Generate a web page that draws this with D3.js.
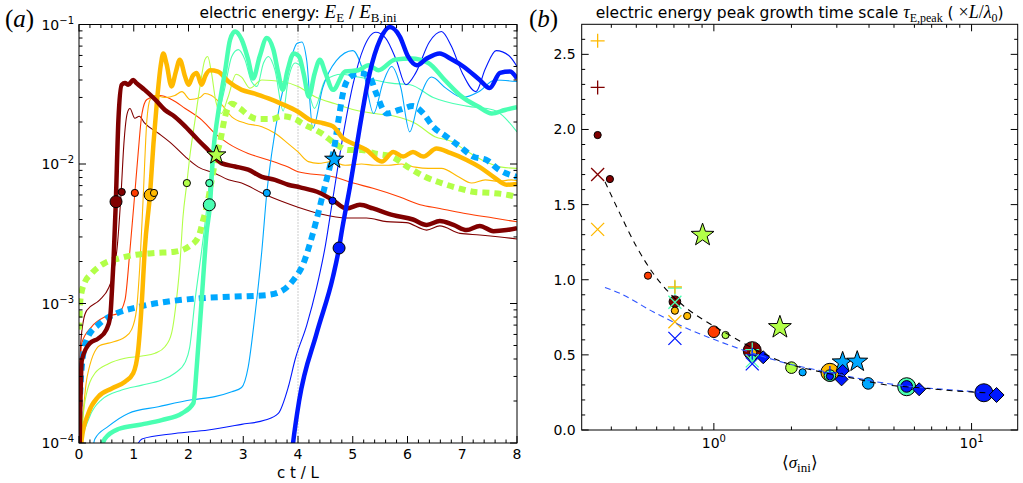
<!DOCTYPE html>
<html>
<head>
<meta charset="utf-8">
<script src="https://cdn.jsdelivr.net/npm/d3@7"></script>
<style>
  body { margin: 0; background: #fff; }
  svg { display: block; font-family: "DejaVu Sans", sans-serif; }
  .tk { stroke: #000; stroke-width: 1; }
  .frame { fill: none; stroke: #000; stroke-width: 1; }
  .math { font-family: "Liberation Serif", serif; }
</style>
</head>
<body>
<svg id="fig" width="1023" height="483"></svg>
<script>
// ---------- panel (a): electric energy E_E / E_B,ini vs c t / L ----------
// [t, E]
var darkRedThick = [[0.0,5e-5],[0.02,1.5e-4],[0.05,3.9e-4],[0.2,5.2e-4],[0.35,5.6e-4],[0.5,6.5e-4],[0.57,8e-4],[0.6,1.2e-3],[0.63,2e-3],[0.67,5e-3],[0.72,2.07e-2],[0.78,3.7e-2],[0.84,3.8e-2],[0.9,3.7e-2],[0.99,4e-2],[1.05,3.8e-2],[1.2,3.4e-2],[1.39,2.9e-2],[1.57,2.44e-2],[1.75,2.18e-2],[1.94,1.86e-2],[2.18,1.48e-2],[2.36,1.26e-2],[2.61,1.01e-2],[2.85,9.6e-3],[3.09,9.1e-3],[3.34,8.1e-3],[3.58,7.7e-3],[3.82,7.1e-3],[4.04,6.8e-3],[4.4,6.2e-3],[4.64,5.5e-3],[4.89,4.8e-3],[5.13,5.1e-3],[5.37,4.8e-3],[5.74,4.3e-3],[6.1,4e-3],[6.35,3.66e-3],[6.59,3.9e-3],[6.84,3.66e-3],[7.08,3.36e-3],[7.32,3.6e-3],[7.57,3.3e-3],[7.81,3.36e-3],[8,3.47e-3]];
var darkRedThin = [[0,1.5e-4],[0.03,5e-4],[0.08,7.5e-4],[0.14,8.9e-4],[0.38,1.06e-3],[0.54,1.29e-3],[0.62,1.6e-3],[0.7,2.6e-3],[0.77,6.3e-3],[0.82,1.4e-2],[0.88,2.3e-2],[0.93,2.5e-2],[1.02,2.13e-2],[1.1,2.2e-2],[1.2,1.96e-2],[1.45,1.66e-2],[1.69,1.4e-2],[1.94,1.13e-2],[2.18,9.5e-3],[2.48,8.6e-3],[2.73,7.7e-3],[2.97,7.3e-3],[3.34,6.2e-3],[3.7,5.4e-3],[4.0,4.9e-3],[4.4,4.4e-3],[4.89,4.1e-3],[5.25,4.1e-3],[5.62,3.86e-3],[5.98,3.8e-3],[6.35,3.36e-3],[6.59,3.6e-3],[6.96,3.18e-3],[7.32,3.1e-3],[7.69,3e-3],[8,2.9e-3]];
var redThin = [[0,2e-4],[0.05,5.2e-4],[0.23,6.8e-4],[0.47,8e-4],[0.72,8.5e-4],[0.84,1.06e-3],[0.93,2.4e-3],[1.02,6.2e-3],[1.08,1.19e-2],[1.15,2.3e-2],[1.24,2.9e-2],[1.48,3.1e-2],[1.69,2.9e-2],[1.94,2.5e-2],[2.24,2.07e-2],[2.48,1.66e-2],[2.73,1.4e-2],[3.09,1.19e-2],[3.46,1.07e-2],[3.82,9.5e-3],[4.0,8.8e-3],[4.64,8.1e-3],[5.01,7.3e-3],[5.37,6.7e-3],[5.86,5.8e-3],[6.23,5.1e-3],[6.59,4.8e-3],[7.08,4.4e-3],[7.57,4.1e-3],[8,3.85e-3]];
var orangeThick = [[0,4e-5],[0.05,1.07e-4],[0.17,1.63e-4],[0.35,2.14e-4],[0.6,2.46e-4],[0.84,2.75e-4],[0.99,3.16e-4],[1.08,4.6e-4],[1.15,1.06e-3],[1.2,2.4e-3],[1.3,6.3e-3],[1.36,1.4e-2],[1.42,2.7e-2],[1.49,5e-2],[1.54,6.2e-2],[1.6,5.2e-2],[1.69,3.6e-2],[1.77,4.6e-2],[1.84,5.6e-2],[1.94,4.2e-2],[2.0,3.7e-2],[2.08,4.3e-2],[2.15,4.5e-2],[2.24,3.7e-2],[2.31,4.3e-2],[2.39,4.7e-2],[2.54,4.6e-2],[2.73,3.9e-2],[2.97,3.4e-2],[3.21,3.2e-2],[3.46,2.95e-2],[3.7,2.7e-2],[4.0,2.37e-2],[4.22,2.07e-2],[4.46,1.96e-2],[4.64,1.86e-2],[4.82,1.53e-2],[5.0,1.4e-2],[5.25,1.26e-2],[5.53,1.04e-2],[5.74,1.22e-2],[5.92,1.13e-2],[6.1,1.22e-2],[6.29,1.13e-2],[6.53,1.29e-2],[6.78,1.2e-2],[7.08,1.07e-2],[7.32,9.5e-3],[7.57,8.1e-3],[7.81,7.1e-3],[8,7.2e-3]];
var orangeThin = [[0,6e-5],[0.05,1.2e-4],[0.15,3e-4],[0.38,5e-4],[0.54,5.2e-4],[0.84,5.75e-4],[0.96,6.5e-4],[1.05,9e-4],[1.11,1.84e-3],[1.17,5.5e-3],[1.24,2.07e-2],[1.3,2.9e-2],[1.39,3.1e-2],[1.57,3e-2],[1.75,3.1e-2],[1.88,3.3e-2],[2.03,2.9e-2],[2.21,3e-2],[2.3,3.2e-2],[2.42,3.1e-2],[2.61,2.65e-2],[2.79,2.18e-2],[3.04,1.96e-2],[3.34,1.85e-2],[3.58,1.66e-2],[3.82,1.4e-2],[4.0,1.22e-2],[4.19,1.04e-2],[4.37,1.01e-2],[4.62,1.04e-2],[4.86,9.8e-3],[5.16,1e-2],[5.4,9.8e-3],[5.65,9.8e-3],[5.89,1e-2],[6.14,9.5e-3],[6.38,9.3e-3],[6.62,9.3e-3],[6.93,8.1e-3],[7.17,7.3e-3],[7.42,7.7e-3],[7.66,7.5e-3],[7.9,7.7e-3],[8,7.6e-3]];
var ygThin = [[0,6e-5],[0.05,1.2e-4],[0.11,2e-4],[0.29,3.16e-4],[0.54,3.7e-4],[0.84,4.05e-4],[1.15,4.2e-4],[1.39,4.4e-4],[1.57,4.9e-4],[1.69,6.1e-4],[1.78,1.06e-3],[1.84,1.84e-3],[1.9,4.2e-3],[1.97,7.3e-3],[2.02,1.1e-2],[2.12,2.07e-2],[2.21,3.6e-2],[2.3,5.6e-2],[2.35,5.9e-2],[2.42,4.5e-2],[2.5,2.8e-2],[2.6,2.3e-2],[2.72,3e-2],[2.87,4.4e-2],[2.97,4.2e-2],[3.12,3.5e-2],[3.34,4e-2],[3.7,3.9e-2],[4.0,3.6e-2],[4.31,3.04e-2],[4.68,2.7e-2],[5.04,2.44e-2],[5.4,2.3e-2],[5.77,2.2e-2],[6.14,1.96e-2],[6.5,1.57e-2],[6.81,1.45e-2],[7.05,1.26e-2],[7.36,1.07e-2],[7.72,9.5e-3],[8,9.3e-3]];
var ygDotted = [[0,6.5e-4],[0.03,1.1e-3],[0.1,1.4e-3],[0.23,1.64e-3],[0.47,1.95e-3],[0.72,2.1e-3],[1.02,2.23e-3],[1.39,2.3e-3],[1.75,2.35e-3],[2.0,2.55e-3],[2.18,3e-3],[2.27,4e-3],[2.33,4.9e-3],[2.42,7.5e-3],[2.51,1.16e-2],[2.57,1.4e-2],[2.67,2.2e-2],[2.79,2.7e-2],[2.94,2.5e-2],[3.09,2.24e-2],[3.27,2.1e-2],[3.52,2.1e-2],[3.7,2.2e-2],[3.95,2.1e-2],[4.07,1.96e-2],[4.43,1.66e-2],[4.68,1.4e-2],[4.92,1.26e-2],[5.16,1.26e-2],[5.4,1.19e-2],[5.71,1.13e-2],[6.01,9.5e-3],[6.32,8.1e-3],[6.62,7.3e-3],[6.93,6.7e-3],[7.23,6.3e-3],[7.54,6.2e-3],[7.84,6e-3],[8,5.8e-3]];
var aquaThin = [[0,5e-5],[0.05,1e-4],[0.17,1.46e-4],[0.41,2.04e-4],[0.78,2.4e-4],[1.15,2.6e-4],[1.51,2.83e-4],[1.75,3.16e-4],[1.94,3.8e-4],[2.02,4.8e-4],[2.12,1.06e-3],[2.24,2.4e-3],[2.33,4.7e-3],[2.38,7.3e-3],[2.45,1.2e-2],[2.54,2.07e-2],[2.67,3.6e-2],[2.79,5.9e-2],[2.91,6.6e-2],[3.03,5.6e-2],[3.15,3.9e-2],[3.25,3.6e-2],[3.37,5.3e-2],[3.46,5.9e-2],[3.58,4.7e-2],[3.73,2.4e-2],[3.82,4e-2],[3.95,5.3e-2],[4.05,5e-2],[4.18,3.5e-2],[4.3,2.5e-2],[4.5,4e-2],[4.8,4.4e-2],[5.1,4.2e-2],[5.4,4e-2],[5.7,3.8e-2],[6.05,3.7e-2],[6.47,3e-2],[7.08,2.6e-2],[7.57,2.44e-2],[8,1.7e-2]];
var aquaThick = [[0.3,6e-5],[0.47,1.07e-4],[0.72,1.26e-4],[1.15,1.36e-4],[1.51,1.46e-4],[1.88,1.63e-4],[2.09,1.93e-4],[2.15,3.5e-4],[2.24,1.06e-3],[2.33,3.2e-3],[2.39,5e-3],[2.45,1.19e-2],[2.54,2.3e-2],[2.67,4.7e-2],[2.76,7.8e-2],[2.85,8.9e-2],[2.97,7.8e-2],[3.09,5.6e-2],[3.18,4.1e-2],[3.3,5.9e-2],[3.43,8e-2],[3.55,6.6e-2],[3.64,4.5e-2],[3.72,3.4e-2],[3.81,4.7e-2],[3.92,6.2e-2],[4.02,5.9e-2],[4.1,4.5e-2],[4.2,3.04e-2],[4.3,4.4e-2],[4.4,5.6e-2],[4.5,4.5e-2],[4.64,3.4e-2],[4.86,4.6e-2],[5.1,4.7e-2],[5.29,5.1e-2],[5.47,4.7e-2],[5.77,5.6e-2],[6.07,5.7e-2],[6.38,5.3e-2],[6.68,4e-2],[6.99,3.04e-2],[7.29,2.58e-2],[7.54,2.3e-2],[7.78,2.44e-2],[8,2.55e-2]];
var lblueThin = [[0.2,6e-5],[0.29,1.07e-4],[0.54,1.32e-4],[0.9,1.63e-4],[1.45,1.82e-4],[2.06,2.04e-4],[2.48,2.15e-4],[2.79,2.33e-4],[2.97,2.5e-4],[3.09,3.5e-4],[3.21,8e-4],[3.34,2.4e-3],[3.43,6.2e-3],[3.52,1.19e-2],[3.67,2.7e-2],[3.82,4.7e-2],[3.98,7.3e-2],[4.07,7.5e-2],[4.16,5.5e-2],[4.27,1.8e-2],[4.45,3.5e-2],[4.7,5.5e-2],[5.0,6.5e-2],[5.2,4.5e-2],[5.38,2.3e-2],[5.55,3.8e-2],[5.71,5e-2],[5.88,3.5e-2],[6.04,1.7e-2],[6.2,2.8e-2],[6.44,4.2e-2],[6.7,3.5e-2],[7.0,3e-2],[7.3,3.3e-2],[7.6,4e-2],[8,3.9e-2]];
var lblueDotted = [[0,1.5e-4],[0.05,3.5e-4],[0.14,5.5e-4],[0.38,7.2e-4],[0.69,8.5e-4],[1.11,9.5e-4],[1.6,1.03e-3],[2.21,1.09e-3],[2.82,1.12e-3],[3.43,1.15e-3],[3.73,1.25e-3],[3.92,1.48e-3],[4.1,1.94e-3],[4.22,2.7e-3],[4.34,4e-3],[4.46,6.2e-3],[4.58,9.5e-3],[4.66,1.3e-2],[4.75,2.2e-2],[4.82,3.2e-2],[4.95,4.2e-2],[5.13,4.5e-2],[5.31,4.2e-2],[5.43,3.2e-2],[5.62,2.3e-2],[5.86,2.45e-2],[6.1,2.6e-2],[6.29,2.3e-2],[6.47,1.85e-2],[6.71,1.57e-2],[6.96,1.33e-2],[7.2,1.13e-2],[7.44,1.07e-2],[7.69,9e-3],[8,8.1e-3]];
var blueThin = [[0.9,6e-5],[1.15,1.07e-4],[1.75,1.17e-4],[2.36,1.24e-4],[2.97,1.36e-4],[3.4,1.46e-4],[3.64,1.63e-4],[3.82,2.5e-4],[3.95,4e-4],[4.16,7e-4],[4.34,1.3e-3],[4.5,2.6e-3],[4.63,5.45e-3],[4.83,1.66e-2],[5.01,3.8e-2],[5.2,6.8e-2],[5.42,8.8e-2],[5.6,8e-2],[5.8,5.5e-2],[5.97,3.7e-2],[6.15,4.5e-2],[6.4,7.5e-2],[6.62,8.9e-2],[6.8,7e-2],[7.0,4.5e-2],[7.25,3.3e-2],[7.42,4.8e-2],[7.62,6.5e-2],[7.85,6e-2],[8,5e-2]];
var blueThick = [[3.85,6e-5],[3.91,1e-4],[4.02,2e-4],[4.34,6.1e-4],[4.64,1.56e-3],[4.75,2.5e-3],[4.8,3.3e-3],[4.95,6.9e-3],[5.13,1.85e-2],[5.31,4.5e-2],[5.5,7.8e-2],[5.68,9.6e-2],[5.86,8.2e-2],[6.01,5.9e-2],[6.17,5.1e-2],[6.35,5.7e-2],[6.59,6.2e-2],[6.78,5.7e-2],[7.02,5e-2],[7.32,4e-2],[7.5,3.5e-2],[7.69,4.5e-2],[7.87,4.6e-2],[8,4.1e-2]];

// markers in (a): [t, E, run]
var bigDotsA   = [[0.676,5.37e-3,"c0"],[1.3,6e-3,"c2"],[2.38,5.1e-3,"c4"],[4.75,2.5e-3,"c6"]];
var smallDotsA = [[0.78,6.3e-3,"c0"],[1.02,6.2e-3,"c1"],[1.37,6.2e-3,"c2"],[1.97,7.3e-3,"c3"],[2.38,7.3e-3,"c4"],[3.43,6.2e-3,"c5"],[4.63,5.45e-3,"c6"]];
var starsA     = [[2.51,1.16e-2,"c3"],[4.66,1.08e-2,"c5"]];
var xTicksA    = [0,1,2,3,4,5,6,7,8];

// ---------- panel (b): peak growth time scale vs <sigma_ini> ----------
// [sigma, tau, run]
var largeDotsB = [[1.409,0.528,"c0"],[2.82,0.384,"c2"],[5.6,0.288,"c4"],[11.16,0.248,"c6"]];
var midDotsB   = [[0.706,0.854,"c0"],[1.0,0.654,"c1"],[2.0,0.415,"c3"],[2.82,0.362,"c4"],[3.97,0.31,"c5"],[5.6,0.29,"c6"]];
var smallDotsB = [[0.354,1.963,"c0"],[0.395,1.67,"c0"],[0.555,1.027,"c1"],[0.706,0.794,"c2"],[0.788,0.759,"c2"],[1.11,0.632,"c3"],[1.42,0.515,"c2"],[1.409,0.477,"c4"],[2.21,0.384,"c5"],[2.82,0.357,"c6"]];
var starsB     = [[0.904,1.297,"c3"],[1.804,0.683,"c3"],[3.16,0.45,"c5"],[3.6,0.455,"c5"]];
var diamondsB  = [[1.554,0.484],[3.16,0.393],[3.13,0.337],[6.26,0.271],[12.5,0.233]];
var plusB      = [[0.354,2.59,"c2"],[0.354,2.28,"c0"],[0.706,0.945,"c4"],[0.706,0.953,"c2"],[1.409,0.535,"c4"],[1.409,0.5,"c6"],[2.82,0.38,"c6"]];
var crossB     = [[0.354,1.70,"c0"],[0.354,1.335,"c2"],[0.706,0.85,"c4"],[0.706,0.72,"c2"],[0.706,0.61,"c6"],[1.409,0.46,"c4"],[1.409,0.44,"c6"]];
var fitBlack   = [[0.378,1.652],[0.432,1.44],[0.501,1.22],[0.581,1.043],[0.675,0.909],[0.784,0.81],[0.937,0.72],[1.12,0.643],[1.42,0.543],[1.914,0.444],[2.58,0.388],[3.47,0.344],[4.68,0.3],[6.3,0.281],[8.49,0.261],[11.4,0.248]];
var fitBlue    = [[0.378,0.949],[0.432,0.909],[0.581,0.787],[0.784,0.677],[1.055,0.588],[1.42,0.51],[1.914,0.444],[2.58,0.395],[3.47,0.35],[4.68,0.31],[6.3,0.283],[8.49,0.266],[11.4,0.248]];
var yTicksB    = [0, 0.5, 1.0, 1.5, 2.0, 2.5];

var runColor = {c0:"#800000", c1:"#ff3c00", c2:"#ffb900", c3:"#b2ff48", c4:"#4affb2", c5:"#00a8ff", c6:"#0018ff"};

var svg = d3.select("#fig");
var A = {left:79, right:517, top:24.5, bottom:443};
var B = {left:581.7, right:1017.7, top:24.3, bottom:430};

var xa = d3.scaleLinear().domain([0,8]).range([A.left, A.right]);
var ya = d3.scaleLog().domain([1e-4,1e-1]).range([A.bottom, A.top]);
var xb = d3.scaleLog().domain([0.307,15.1]).range([B.left, B.right]);
var yb = d3.scaleLinear().domain([0,2.7]).range([B.bottom, B.top]);

function starPath(R) {
    var pts = [];
    for (var i = 0; i < 10; i++) {
        var r = (i % 2 == 0) ? R : R*0.4;
        var a = -Math.PI/2 + i*Math.PI/5;
        pts.push([r*Math.cos(a), r*Math.sin(a)]);
    }
    return "M" + pts.map(function(p){ return p[0].toFixed(2)+","+p[1].toFixed(2); }).join("L") + "Z";
}

// ticks on all four sides, pointing inward
function ticksX(sc, vals, box, len) {
    vals.forEach(function(v) {
        var x = sc(v);
        svg.append("line").attr("class","tk").attr("x1",x).attr("x2",x).attr("y1",box.bottom).attr("y2",box.bottom-len);
        svg.append("line").attr("class","tk").attr("x1",x).attr("x2",x).attr("y1",box.top).attr("y2",box.top+len);
    });
}
function ticksY(sc, vals, box, len) {
    vals.forEach(function(v) {
        var y = sc(v);
        svg.append("line").attr("class","tk").attr("x1",box.left).attr("x2",box.left+len).attr("y1",y).attr("y2",y);
        svg.append("line").attr("class","tk").attr("x1",box.right).attr("x2",box.right-len).attr("y1",y).attr("y2",y);
    });
}
function powLabel(x, y, base, exp, anchor) {
    var t = svg.append("text").attr("x",x).attr("y",y).attr("text-anchor",anchor).attr("font-size",14);
    t.append("tspan").text(base);
    t.append("tspan").attr("dy",-6).attr("font-size",10).text(exp);
}

// ================= panel (a) =================
svg.append("clipPath").attr("id","clipA").append("rect")
    .attr("x",A.left).attr("y",A.top).attr("width",A.right-A.left).attr("height",A.bottom-A.top);

var gA = svg.append("g").attr("clip-path","url(#clipA)");

gA.append("line")
    .attr("x1",xa(4)).attr("x2",xa(4)).attr("y1",A.top).attr("y2",A.bottom)
    .attr("stroke","#9a9a9a").attr("stroke-width",1).attr("stroke-dasharray","1,2");

var lineA = d3.line()
    .x(function(d){ return xa(d[0]); })
    .y(function(d){ return ya(d[1]); })
    .curve(d3.curveMonotoneX);

var seriesA = [
    {d:darkRedThin, c:"c0", w:1.1},
    {d:redThin,     c:"c1", w:1.1},
    {d:orangeThin,  c:"c2", w:1.1},
    {d:ygThin,      c:"c3", w:1.1},
    {d:aquaThin,    c:"c4", w:1.1},
    {d:lblueThin,   c:"c5", w:1.1},
    {d:blueThin,    c:"c6", w:1.1},
    {d:ygDotted,    c:"c3", w:6, dash:"7,5"},
    {d:lblueDotted, c:"c5", w:6, dash:"7,5"},
    {d:orangeThick, c:"c2", w:4.5},
    {d:aquaThick,   c:"c4", w:4.5},
    {d:darkRedThick,c:"c0", w:4.5},
    {d:blueThick,   c:"c6", w:4.5}
];
seriesA.forEach(function(s) {
    gA.append("path")
        .attr("d", lineA(s.d))
        .attr("fill","none")
        .attr("stroke", runColor[s.c])
        .attr("stroke-width", s.w)
        .attr("stroke-dasharray", s.dash || null)
        .attr("stroke-linejoin","round");
});

gA.selectAll(".bigA").data(bigDotsA).enter().append("circle")
    .attr("cx",function(d){ return xa(d[0]); }).attr("cy",function(d){ return ya(d[1]); })
    .attr("r",6).attr("fill",function(d){ return runColor[d[2]]; }).attr("stroke","#000").attr("stroke-width",1);
gA.selectAll(".smallA").data(smallDotsA).enter().append("circle")
    .attr("cx",function(d){ return xa(d[0]); }).attr("cy",function(d){ return ya(d[1]); })
    .attr("r",3.6).attr("fill",function(d){ return runColor[d[2]]; }).attr("stroke","#000").attr("stroke-width",1);
gA.selectAll(".starA").data(starsA).enter().append("path")
    .attr("d", starPath(10))
    .attr("transform",function(d){ return "translate(" + xa(d[0]) + "," + ya(d[1]) + ")"; })
    .attr("fill",function(d){ return runColor[d[2]]; }).attr("stroke","#000").attr("stroke-width",1);

svg.append("rect").attr("class","frame")
    .attr("x",A.left).attr("y",A.top).attr("width",A.right-A.left).attr("height",A.bottom-A.top);

ticksX(xa, xTicksA, A, 7);
ticksX(xa, d3.range(0.2, 8, 0.2).filter(function(v){ return Math.abs(v-Math.round(v)) > 0.01; }), A, 3.5);
var yTicksAll = ya.ticks();
ticksY(ya, yTicksAll.filter(function(v){ return Math.abs(Math.log10(v)-Math.round(Math.log10(v))) < 1e-6; }), A, 7);
ticksY(ya, yTicksAll.filter(function(v){ return Math.abs(Math.log10(v)-Math.round(Math.log10(v))) > 1e-6; }), A, 3.5);

xTicksA.forEach(function(v) {
    svg.append("text").attr("x",xa(v)).attr("y",A.bottom+16).attr("text-anchor","middle").attr("font-size",14).text(v);
});
[1e-4,1e-3,1e-2,1e-1].forEach(function(v) {
    powLabel(A.left-5, ya(v)+5, "10", "\u2212" + Math.round(-Math.log10(v)), "end");
});

svg.append("text").attr("x",(A.left+A.right)/2).attr("y",478).attr("text-anchor","middle").attr("font-size",15).text("c t / L");

var tA = svg.append("text").attr("x",(A.left+A.right)/2).attr("y",18).attr("text-anchor","middle").attr("font-size",15.5);
tA.append("tspan").text("electric energy: ");
tA.append("tspan").attr("class","math").attr("font-style","italic").attr("font-size",19).text("E");
tA.append("tspan").attr("class","math").attr("font-size",13).attr("dy",4).text("E");
tA.append("tspan").attr("dy",-4).text(" / ");
tA.append("tspan").attr("class","math").attr("font-style","italic").attr("font-size",19).text("E");
tA.append("tspan").attr("class","math").attr("font-size",13).attr("dy",4).text("B,ini");

var labA = svg.append("text").attr("x",5).attr("y",27).attr("class","math").attr("font-size",25);
labA.append("tspan").text("(");
labA.append("tspan").attr("font-style","italic").text("a");
labA.append("tspan").text(")");

// ================= panel (b) =================
var gB = svg.append("g");

gB.selectAll(".lgB").data(largeDotsB).enter().append("circle")
    .attr("cx",function(d){ return xb(d[0]); }).attr("cy",function(d){ return yb(d[1]); })
    .attr("r",9).attr("fill",function(d){ return runColor[d[2]]; }).attr("stroke","#000").attr("stroke-width",1);
gB.selectAll(".mdB").data(midDotsB).enter().append("circle")
    .attr("cx",function(d){ return xb(d[0]); }).attr("cy",function(d){ return yb(d[1]); })
    .attr("r",5.8).attr("fill",function(d){ return runColor[d[2]]; }).attr("stroke","#000").attr("stroke-width",1);
gB.selectAll(".smB").data(smallDotsB).enter().append("circle")
    .attr("cx",function(d){ return xb(d[0]); }).attr("cy",function(d){ return yb(d[1]); })
    .attr("r",3.6).attr("fill",function(d){ return runColor[d[2]]; }).attr("stroke","#000").attr("stroke-width",1);
gB.selectAll(".stB").data(starsB).enter().append("path")
    .attr("d",function(d){ return starPath(d[2] == "c3" ? 12 : 11); })
    .attr("transform",function(d){ return "translate(" + xb(d[0]) + "," + yb(d[1]) + ")"; })
    .attr("fill",function(d){ return runColor[d[2]]; }).attr("stroke","#000").attr("stroke-width",1);
gB.selectAll(".dmB").data(diamondsB).enter().append("path")
    .attr("d",function(d,i){ var h = (i == diamondsB.length-1) ? 7.5 : 6.5; return "M0,"+(-h)+"L"+h+",0L0,"+h+"L"+(-h)+",0Z"; })
    .attr("transform",function(d){ return "translate(" + xb(d[0]) + "," + yb(d[1]) + ")"; })
    .attr("fill",runColor.c6).attr("stroke","#000").attr("stroke-width",1);
gB.selectAll(".plB").data(plusB).enter().append("path")
    .attr("d","M-7,0H7M0,-7V7")
    .attr("transform",function(d){ return "translate(" + xb(d[0]) + "," + yb(d[1]) + ")"; })
    .attr("stroke",function(d){ return runColor[d[2]]; }).attr("stroke-width",1.3).attr("fill","none");
gB.selectAll(".xB").data(crossB).enter().append("path")
    .attr("d","M-6.5,-6.5L6.5,6.5M-6.5,6.5L6.5,-6.5")
    .attr("transform",function(d){ return "translate(" + xb(d[0]) + "," + yb(d[1]) + ")"; })
    .attr("stroke",function(d){ return runColor[d[2]]; }).attr("stroke-width",1.3).attr("fill","none");

var lineB = d3.line()
    .x(function(d){ return xb(d[0]); })
    .y(function(d){ return yb(d[1]); })
    .curve(d3.curveMonotoneX);
gB.append("path").attr("d",lineB(fitBlue)).attr("fill","none")
    .attr("stroke","#2f55ff").attr("stroke-width",1.1).attr("stroke-dasharray","6,4");
gB.append("path").attr("d",lineB(fitBlack)).attr("fill","none")
    .attr("stroke","#000").attr("stroke-width",1.1).attr("stroke-dasharray","6,5");

svg.append("rect").attr("class","frame")
    .attr("x",B.left).attr("y",B.top).attr("width",B.right-B.left).attr("height",B.bottom-B.top);

var xbTicks = xb.ticks();
ticksX(xb, xbTicks.filter(function(v){ return v == 1 || v == 10; }), B, 7);
ticksX(xb, xbTicks.filter(function(v){ return v != 1 && v != 10; }), B, 3.5);
ticksY(yb, yTicksB, B, 7);
ticksY(yb, d3.range(0.1, 2.7, 0.1).filter(function(v){ return Math.abs(v*2-Math.round(v*2)) > 0.01; }), B, 3.5);

yTicksB.forEach(function(v) {
    svg.append("text").attr("x",B.left-6).attr("y",yb(v)+5).attr("text-anchor","end").attr("font-size",14).text(d3.format(".1f")(v));
});
powLabel(xb(1), B.bottom+18, "10", "0", "middle");
powLabel(xb(10), B.bottom+18, "10", "1", "middle");

var xlB = svg.append("text").attr("x",(B.left+B.right)/2).attr("y",468).attr("text-anchor","middle").attr("class","math").attr("font-size",17);
xlB.append("tspan").text("\u27e8");
xlB.append("tspan").attr("font-style","italic").text("\u03c3");
xlB.append("tspan").attr("font-size",13).attr("dy",4).text("ini");
xlB.append("tspan").attr("dy",-4).text("\u27e9");

var tB = svg.append("text").attr("x",(B.left+B.right)/2).attr("y",18).attr("text-anchor","middle").attr("font-size",15.5);
tB.append("tspan").text("electric energy peak growth time scale ");
tB.append("tspan").attr("class","math").attr("font-style","italic").attr("font-size",18).text("\u03c4");
tB.append("tspan").attr("class","math").attr("font-size",12).attr("dy",4).text("E,peak");
tB.append("tspan").attr("dy",-4).text(" ( ");
tB.append("tspan").attr("class","math").attr("font-size",18).text("\u00d7");
tB.append("tspan").attr("class","math").attr("font-style","italic").attr("font-size",18).text("L");
tB.append("tspan").attr("class","math").attr("font-size",18).text("/");
tB.append("tspan").attr("class","math").attr("font-style","italic").attr("font-size",18).text("\u03bb");
tB.append("tspan").attr("class","math").attr("font-size",12).attr("dy",4).text("0");
tB.append("tspan").attr("dy",-4).text(")");

var labB = svg.append("text").attr("x",529).attr("y",27).attr("class","math").attr("font-size",25);
labB.append("tspan").text("(");
labB.append("tspan").attr("font-style","italic").text("b");
labB.append("tspan").text(")");
</script>
</body>
</html>
